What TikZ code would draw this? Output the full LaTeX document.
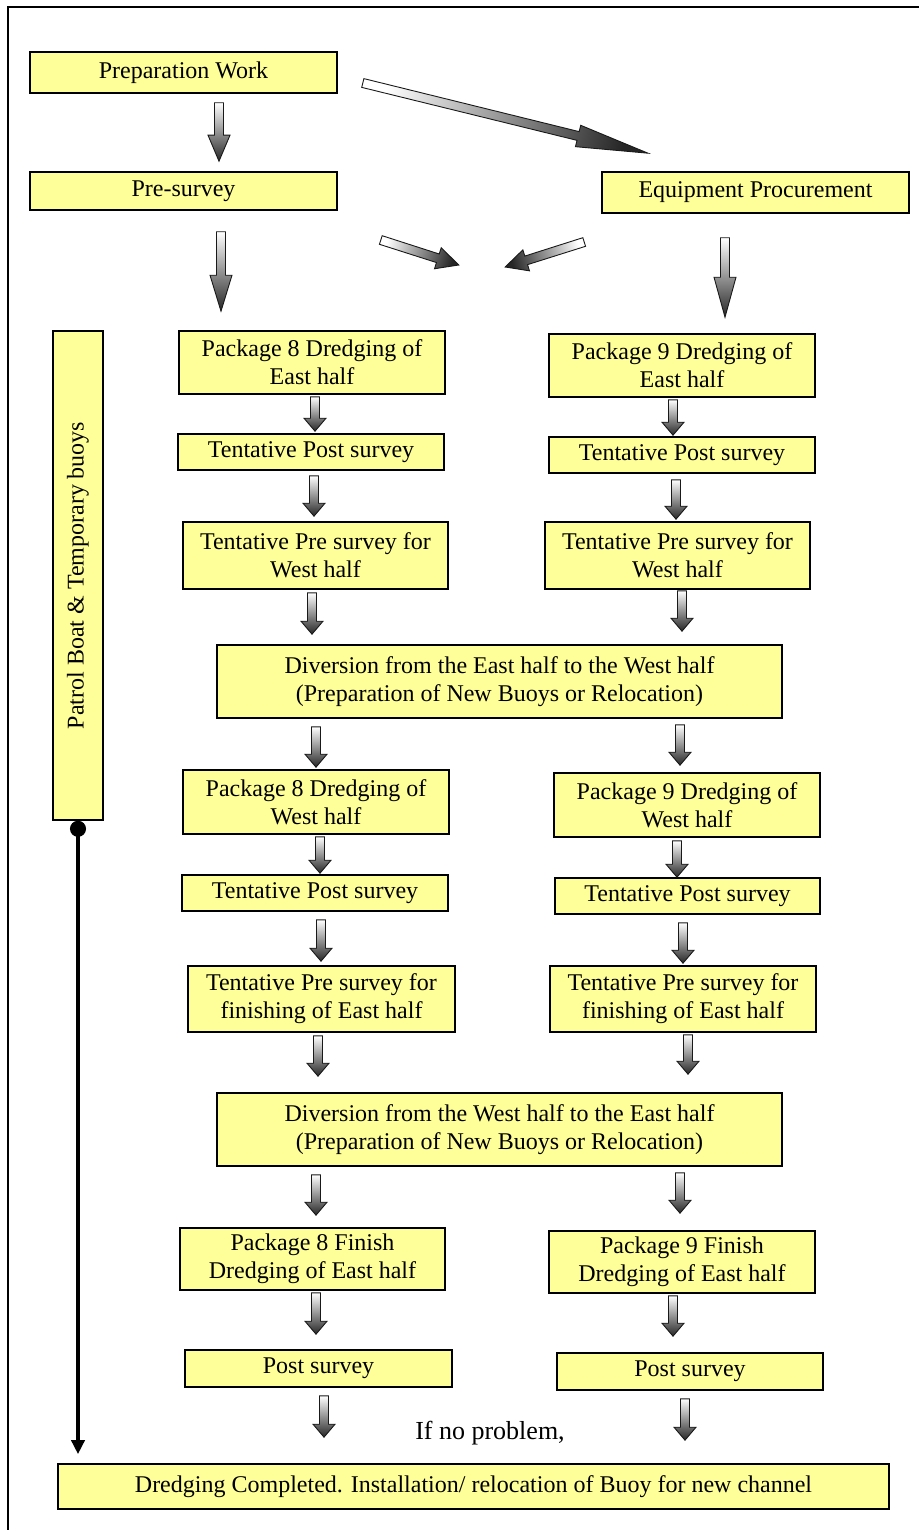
\documentclass[tikz,border=0pt]{standalone}
\usepackage{fontspec}
\setmainfont{Liberation Serif}
\usetikzlibrary{calc,arrows.meta}

\definecolor{boxyellow}{HTML}{FFFF99}

\tikzset{
  box/.style={draw, fill=boxyellow, line width=0.8pt, align=center, inner sep=0pt},
  blockarrow/.style={draw=black!90, line width=0.45pt, top color=white, bottom color=black!85},
  lifeline/.style={line width=2pt, {Circle[length=8pt]}-{Triangle[length=7pt,width=6.5pt]}}
}

% shaded block arrow from #2 to #3, #1 = length of the head
\newcommand{\blockarrow}[3][6.5pt]{%
  \coordinate (ba-a) at #2;
  \coordinate (ba-b) at #3;
  \coordinate (ba-n) at ($(ba-b)!#1!(ba-a)$);
  \pgfmathanglebetweenpoints{\pgfpointanchor{ba-a}{center}}{\pgfpointanchor{ba-b}{center}}%
  \pgfmathsetmacro{\baangle}{mod(\pgfmathresult+90,360)}%
  \path[blockarrow, shading angle=\baangle]
    ($(ba-a)!2.25pt!90:(ba-b)$) -- ($(ba-n)!2.25pt!-90:(ba-a)$)
    -- ($(ba-n)!5.5pt!-90:(ba-a)$) -- (ba-b)
    -- ($(ba-n)!5.5pt!90:(ba-a)$) -- ($(ba-n)!2.25pt!90:(ba-a)$)
    -- ($(ba-a)!2.25pt!-90:(ba-b)$) -- cycle;
}

\begin{document}
\begin{tikzpicture}[x=0.5pt, y=-0.5pt, font=\fontsize{12pt}{14pt}\selectfont]
\useasboundingbox (0,0) rectangle (918,1530);
\draw[line width=1pt] (8,1560) -- (8,7) -- (940,7);

% start
\node[box, minimum width=153.5pt, minimum height=20.5pt] (pw) at (183.5,72.5) {Preparation Work};
\node[box, minimum width=153.5pt, minimum height=19pt] (ps) at (183.5,191) {Pre-survey};
\node[box, minimum width=153.5pt, minimum height=20.5pt] (ep) at (755.5,192.5) {Equipment Procurement};
\node[box, rotate=90, minimum width=244.5pt, minimum height=25pt] (pb) at (78,575.5) {Patrol Boat \& Temporary buoys};

% east half
\node[box, minimum width=133pt, minimum height=31.5pt] (p8e) at (312,362.5) {Package 8 Dredging of\\East half};
\node[box, minimum width=133pt, minimum height=31.5pt] (p9e) at (682,365.5) {Package 9 Dredging of\\East half};
\node[box, minimum width=133pt, minimum height=18pt] (t8e) at (311,452) {Tentative Post survey};
\node[box, minimum width=133pt, minimum height=18pt] (t9e) at (682,455) {Tentative Post survey};
\node[box, minimum width=132.5pt, minimum height=33.5pt] (s8w) at (315.5,555.5) {Tentative Pre survey for\\West half};
\node[box, minimum width=132.5pt, minimum height=33.5pt] (s9w) at (677.5,555.5) {Tentative Pre survey for\\West half};
\node[box, minimum width=282.5pt, minimum height=36.5pt] (dv1) at (499.5,681.5) {Diversion from the East half to the West half\\(Preparation of New Buoys or Relocation)};

% west half
\node[box, minimum width=133pt, minimum height=32pt] (p8w) at (316,802) {Package 8 Dredging of\\West half};
\node[box, minimum width=133pt, minimum height=32pt] (p9w) at (687,805) {Package 9 Dredging of\\West half};
\node[box, minimum width=133pt, minimum height=18pt] (t8w) at (315,893) {Tentative Post survey};
\node[box, minimum width=132.5pt, minimum height=18pt] (t9w) at (687.5,896) {Tentative Post survey};
\node[box, minimum width=133.5pt, minimum height=33pt] (s8f) at (321.5,999) {Tentative Pre survey for\\finishing of East half};
\node[box, minimum width=133pt, minimum height=33pt] (s9f) at (683,999) {Tentative Pre survey for\\finishing of East half};
\node[box, minimum width=282.5pt, minimum height=36.5pt] (dv2) at (499.5,1129.5) {Diversion from the West half to the East half\\(Preparation of New Buoys or Relocation)};

% finish
\node[box, minimum width=132.5pt, minimum height=31pt] (f8) at (312.5,1259) {Package 8 Finish\\Dredging of East half};
\node[box, minimum width=133pt, minimum height=31pt] (f9) at (682,1262) {Package 9 Finish\\Dredging of East half};
\node[box, minimum width=133.5pt, minimum height=18.5pt] (q8) at (318.5,1368.5) {Post survey};
\node[box, minimum width=133pt, minimum height=18.5pt] (q9) at (690,1371.5) {Post survey};
\node[font=\fontsize{13pt}{15pt}\selectfont] (note) at (490,1433) {If no problem,};
\node[box, minimum width=415.5pt, minimum height=22.5pt] (done) at (473.5,1486.5) {Dredging Completed. Installation/ relocation of Buoy for new channel};

\draw[lifeline, shorten >=4.5pt] (pb.west) -- (pb.west |- done.north);

% top arrows
\blockarrow[13pt]{($(pw.south)+(35.5,9)$)}{($(ps.north)+(35.5,-10)$)}
\blockarrow[36pt]{($(pw.east)+(25,10.5)$)}{($(ep.north)+(-107.5,-18)$)}
\blockarrow[18pt]{($(ps.south)+(37.5,21)$)}{($(p8e.north)+(-91,-19)$)}
\blockarrow[20pt]{($(ep.south)+(-30.5,24)$)}{($(p9e.north)+(43,-16)$)}
\blockarrow[11pt]{($(ps.east)+(43,49)$)}{($(ps.east)+(121,74)$)}
\blockarrow[11pt]{($(ep.west)+(-17,49.5)$)}{($(ep.west)+(-96,74.5)$)}

% east half steps
\blockarrow{($(p8e.south)+(3,2)$)}{($(t8e.north)+(4,-2)$)}
\blockarrow{($(p9e.south)+(-9,2)$)}{($(t9e.north)+(-9,-1)$)}
\blockarrow{($(t8e.south)+(3,5)$)}{($(s8w.north)+(-1.5,-5)$)}
\blockarrow{($(t9e.south)+(-6,6)$)}{($(s9w.north)+(-1.5,-2)$)}
\blockarrow{($(s8w.south)+(-3.5,3)$)}{($(dv1.north -| s8w.south)+(-3.5,-10)$)}
\blockarrow{($(s9w.south)+(4.5,1)$)}{($(dv1.north -| s9w.south)+(4.5,-13)$)}

% west half steps
\blockarrow{($(dv1.south -| p8w.north)+(0,8)$)}{($(p8w.north)+(0,-2)$)}
\blockarrow{($(dv1.south -| p9w.north)+(-7,6)$)}{($(p9w.north)+(-7,-7)$)}
\blockarrow{($(p8w.south)+(4,2)$)}{($(t8w.north)+(5,-1)$)}
\blockarrow{($(p9w.south)+(-10,3)$)}{($(t9w.north)+(-10.5,0)$)}
\blockarrow{($(t8w.south)+(6,8)$)}{($(s8f.north)+(-0.5,-4)$)}
\blockarrow{($(t9w.south)+(-4.5,8)$)}{($(s9f.north)+(0,-2)$)}
\blockarrow{($(s8f.south)+(-3.5,3)$)}{($(dv2.north -| s8f.south)+(-3.5,-16)$)}
\blockarrow{($(s9f.south)+(5,2)$)}{($(dv2.north -| s9f.south)+(5,-18)$)}

% finish steps
\blockarrow{($(dv2.south -| f8.north)+(3.5,8)$)}{($(f8.north)+(3.5,-12)$)}
\blockarrow{($(dv2.south -| f9.north)+(-2,6)$)}{($(f9.north)+(-2,-17)$)}
\blockarrow{($(f8.south)+(3.5,2)$)}{($(q8.north)+(-2.5,-15)$)}
\blockarrow{($(f9.south)+(-9,2)$)}{($(q9.north)+(-17,-16)$)}
\blockarrow{($(q8.south)+(5.5,8)$)}{($(done.north -| q8.south)+(5.5,-26)$)}
\blockarrow{($(q9.south)+(-5,8)$)}{($(done.north -| q9.south)+(-5,-23)$)}
\end{tikzpicture}
\end{document}
